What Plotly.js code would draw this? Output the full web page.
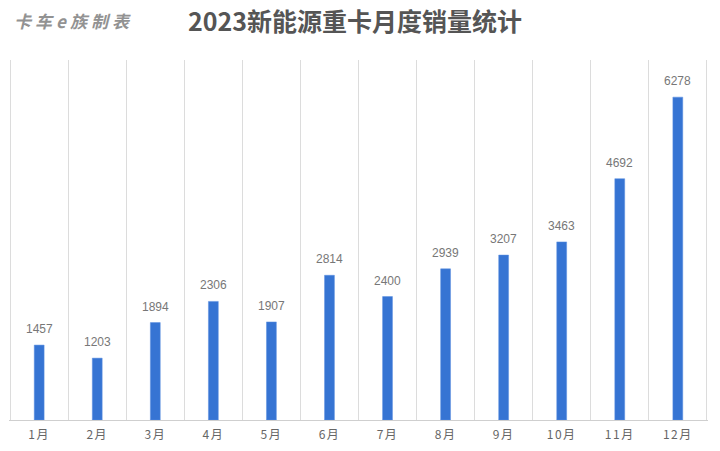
<!DOCTYPE html>
<html><head><meta charset="utf-8">
<script src="https://cdn.plot.ly/plotly-3.0.1.min.js"></script>
<style>html,body{margin:0;padding:0;background:#fff;}#c{width:720px;height:451px;}
.annotation[data-index="12"] .annotation-text{letter-spacing:4px;}
.xtick text{letter-spacing:1.5px !important;}
</style>
</head><body><div id="c"></div>
<script>
const months = ["1月","2月","3月","4月","5月","6月","7月","8月","9月","10月","11月","12月"];
const sales = [1457,1203,1894,2306,1907,2814,2400,2939,3207,3463,4692,6278];
const titleText = "2023新能源重卡月度销量统计";
const watermark = "卡车e族制表";

const trace = {
  type: "bar",
  x: months,
  y: sales,
  marker: {color: "#3674d3", line: {color: "#5b8fe0", width: 0.5}},
  hoverinfo: "none"
};
const valueLabels = months.map((m, i) => ({
  x: m, y: sales[i], xref: "x", yref: "y", text: String(sales[i]),
  showarrow: false, yanchor: "bottom", xanchor: "center", yshift: 7,
  font: {family: "Liberation Sans, Arial, sans-serif", size: 12, color: "#777"}
}));
const layout = {
  width: 720, height: 451,
  margin: {l: 9, r: 12, t: 60, b: 31},
  paper_bgcolor: "#fff", plot_bgcolor: "#fff",
  bargap: 0.83,
  showlegend: false,
  title: {text: "<b>" + titleText + "</b>", x: 0.493, xanchor: "center", y: 0.951, yanchor: "middle",
          font: {family: "Noto Sans CJK SC, sans-serif", size: 25, color: "#555"}},
  xaxis: {type: "category", tickson: "boundaries", showgrid: true, gridcolor: "#dcdcdc", gridwidth: 1,
          showline: true, linecolor: "#cfcfcf", linewidth: 1, ticks: "", range: [-0.52, 11.52],
          ticklabelstandoff: 4,
          tickfont: {family: "Noto Sans CJK SC, sans-serif", size: 12, color: "#666"}},
  yaxis: {range: [0, 7000], showgrid: false, zeroline: false, showticklabels: false, ticks: "", fixedrange: true},
  annotations: valueLabels.concat([{text: "<b><i>" + watermark + "</i></b>", xref: "paper", yref: "paper", x: 0.022, y: 1.11,
                 xanchor: "left", yanchor: "middle", showarrow: false,
                 font: {family: "Noto Sans CJK SC, sans-serif", size: 17, weight: 900, color: "#929292"}}])
};
Plotly.newPlot("c", [trace], layout, {staticPlot: true, displayModeBar: false});
</script></body></html>
